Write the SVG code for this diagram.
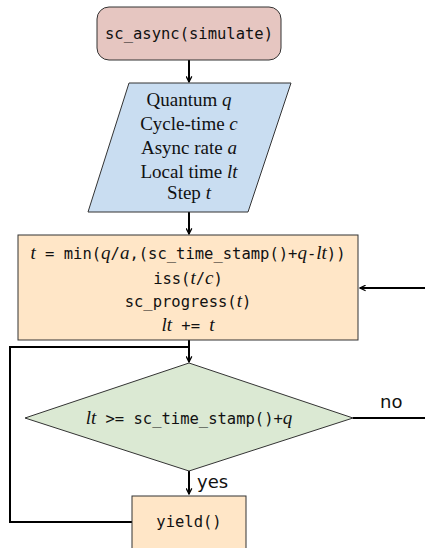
<svg xmlns="http://www.w3.org/2000/svg" width="425" height="548" viewBox="0 0 425 548">
<style>
.node{stroke:#333;stroke-width:1}
.mono{font-family:"DejaVu Sans Mono",monospace;font-size:15.5px;fill:#111}
.ser{font-family:"Liberation Serif","DejaVu Serif",serif;font-size:19px;fill:#111}
.it{font-family:"Liberation Serif","DejaVu Serif",serif;font-style:italic;font-size:19px}
.lbl{font-family:"DejaVu Sans",sans-serif;font-size:18px;fill:#111}
.conn{stroke:#000;stroke-width:2;fill:none}
</style>
<defs>
<marker id="ah" viewBox="0 0 10 10" refX="9" refY="5" markerWidth="7" markerHeight="7" markerUnits="userSpaceOnUse" orient="auto">
<path d="M1,1 L9,5 L1,9" fill="none" stroke="#000" stroke-width="1.8"/>
</marker>
</defs>
<g id="connectors">
<line class="conn" x1="189" y1="60" x2="189" y2="82" marker-end="url(#ah)"/>
<line class="conn" x1="189" y1="212" x2="189" y2="234" marker-end="url(#ah)"/>
<line class="conn" x1="425" y1="288" x2="360" y2="288" marker-end="url(#ah)"/>
<line class="conn" x1="189" y1="340" x2="189" y2="362" marker-end="url(#ah)"/>
<polyline class="conn" points="132,522 10,522 10,347 189,347"/>
<line class="conn" x1="353" y1="418" x2="425" y2="418"/>
<line class="conn" x1="189" y1="471" x2="189" y2="494" marker-end="url(#ah)"/>
<text class="lbl" x="380" y="408">no</text>
<text class="lbl" x="197" y="488">yes</text>
</g>
<g id="start">
<rect class="node" x="97" y="7" width="184" height="53" rx="12" fill="#e6c6c1"/>
<text class="mono" x="189" y="39" text-anchor="middle">sc_async(simulate)</text>
</g>
<g id="inputs">
<polygon class="node" points="129,83 291,83 248,212 88,212" fill="#c9ddf1"/>
<text class="ser" x="189" y="106" text-anchor="middle">Quantum <tspan class="it">q</tspan></text>
<text class="ser" x="189" y="130" text-anchor="middle">Cycle-time <tspan class="it">c</tspan></text>
<text class="ser" x="189" y="154" text-anchor="middle">Async rate <tspan class="it">a</tspan></text>
<text class="ser" x="189" y="178" text-anchor="middle">Local time <tspan class="it">lt</tspan></text>
<text class="ser" x="189" y="199" text-anchor="middle">Step <tspan class="it">t</tspan></text>
</g>
<g id="compute">
<rect class="node" x="18" y="235" width="340" height="105" fill="#ffe6c7"/>
<text class="mono" x="188" y="259" text-anchor="middle"><tspan class="it">t</tspan> = min(<tspan class="it">q</tspan>/<tspan class="it">a</tspan>,(sc_time_stamp()+<tspan class="it">q</tspan>-<tspan class="it">lt</tspan>))</text>
<text class="mono" x="188" y="284" text-anchor="middle">iss(<tspan class="it">t</tspan>/<tspan class="it">c</tspan>)</text>
<text class="mono" x="188" y="307" text-anchor="middle">sc_progress(<tspan class="it">t</tspan>)</text>
<text class="mono" x="188" y="331" text-anchor="middle"><tspan class="it">lt</tspan> += <tspan class="it">t</tspan></text>
</g>
<g id="decision">
<polygon class="node" points="189,363 353,418 189,471 25,418" fill="#dbe9d3"/>
<text class="mono" x="189" y="424" text-anchor="middle"><tspan class="it">lt</tspan> &gt;= sc_time_stamp()+<tspan class="it">q</tspan></text>
</g>
<g id="yield">
<rect class="node" x="132" y="496" width="114" height="60" fill="#ffe6c7"/>
<text class="mono" x="189" y="527" text-anchor="middle">yield()</text>
</g>
</svg>
